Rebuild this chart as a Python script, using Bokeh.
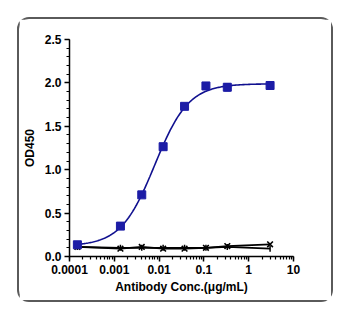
import numpy as np
from bokeh.plotting import figure
from bokeh.models import (Range1d, SingleIntervalTicker, LogTicker, CustomJSTickFormatter,
                          Whisker, ColumnDataSource)
from bokeh.embed import file_html
from bokeh.resources import INLINE

# ---- data ----
conc = [0.00015, 0.00137, 0.0041, 0.0123, 0.037, 0.111, 0.333, 3.0]
od_pos = [0.135, 0.35, 0.71, 1.265, 1.73, 1.965, 1.95, 1.97]
od_pos_lo = [0.12, 0.335, 0.69, 1.24, 1.71, 1.93, 1.91, 1.955]
od_pos_hi = [0.15, 0.365, 0.73, 1.29, 1.75, 2.00, 1.99, 1.985]
od_neg1 = [0.11, 0.09, 0.11, 0.09, 0.09, 0.10, 0.12, 0.14]
od_neg2 = [0.11, 0.10, 0.10, 0.10, 0.10, 0.10, 0.11, 0.09]
# 4-parameter logistic fit
fit_bottom, fit_top, fit_ec50, fit_hill = 0.12, 1.99, 0.008, 1.15

BLUE = "#1c1ca6"
LINE_BLUE = "#10108f"
FONT = "Liberation Sans"

p = figure(width=312, height=281, x_axis_type="log",
           x_range=Range1d(0.0001, 10), y_range=Range1d(0, 2.5),
           output_backend="svg", toolbar_location=None,
           min_border_left=49, min_border_right=38, min_border_top=20, min_border_bottom=44)
p.styles = {"margin-left": "19px", "margin-top": "19px",
            "border-radius": "10px", "box-shadow": "0 0 0 2px #5a5a5a"}
p.outline_line_color = None
p.xgrid.visible = False
p.ygrid.visible = False

# fitted curve
xs = np.logspace(np.log10(conc[0]), np.log10(conc[-1]), 200)
ys = fit_bottom + (fit_top - fit_bottom) / (1 + (fit_ec50 / xs) ** fit_hill)
p.line(xs, ys, line_color=LINE_BLUE, line_width=1.6)

# negative controls
p.line(conc, od_neg2, line_color="black", line_width=1.7)
p.line(conc, od_neg1, line_color="black", line_width=1.7)
p.scatter(conc, od_neg1, marker="x", size=8, line_color="black", line_width=1.6)
p.scatter(conc, od_neg2, marker="dash", angle=np.pi / 2, size=6, line_color="black", line_width=1.5)

# positive
src = ColumnDataSource(dict(x=conc, y=od_pos, lo=od_pos_lo, hi=od_pos_hi))
w = Whisker(source=src, base="x", upper="hi", lower="lo", line_color=BLUE, line_width=1.5)
w.upper_head.size = 6
w.lower_head.size = 6
w.upper_head.line_color = BLUE
w.lower_head.line_color = BLUE
w.upper_head.line_width = 1.5
w.lower_head.line_width = 1.5
p.add_layout(w)
p.scatter("x", "y", source=src, marker="square", size=8, fill_color=BLUE, line_color=BLUE)

# axes
for ax in (p.xaxis[0], p.yaxis[0]):
    ax.axis_line_color = "black"
    ax.axis_line_width = 1.5
    ax.major_tick_line_color = "black"
    ax.minor_tick_line_color = "black"
    ax.major_tick_line_width = 1.5
    ax.minor_tick_line_width = 1.2
    ax.major_tick_in = 0
    ax.major_tick_out = 5
    ax.minor_tick_in = 0
    ax.minor_tick_out = 3
    ax.major_label_text_font = FONT
    ax.major_label_text_font_style = "bold"
    ax.major_label_text_font_size = "12px"
    ax.major_label_text_color = "black"
    ax.axis_label_text_font = FONT
    ax.axis_label_text_font_style = "bold"
    ax.axis_label_text_font_size = "12px"
    ax.axis_label_text_color = "black"
    ax.major_label_standoff = 3

p.yaxis[0].ticker = SingleIntervalTicker(interval=0.5, num_minor_ticks=5)
p.yaxis[0].formatter = CustomJSTickFormatter(code="return tick.toFixed(1);")
p.yaxis[0].axis_label = "OD450"
p.yaxis[0].axis_label_standoff = 5

p.xaxis[0].ticker = LogTicker(num_minor_ticks=10)
p.xaxis[0].formatter = CustomJSTickFormatter(
    code="return tick >= 1 ? tick.toFixed(0) : tick.toPrecision(1);")
p.xaxis[0].axis_label = "Antibody Conc.(μg/mL)"
p.xaxis[0].axis_label_standoff = 3

open("out.html", "w").write(file_html(p, INLINE))
